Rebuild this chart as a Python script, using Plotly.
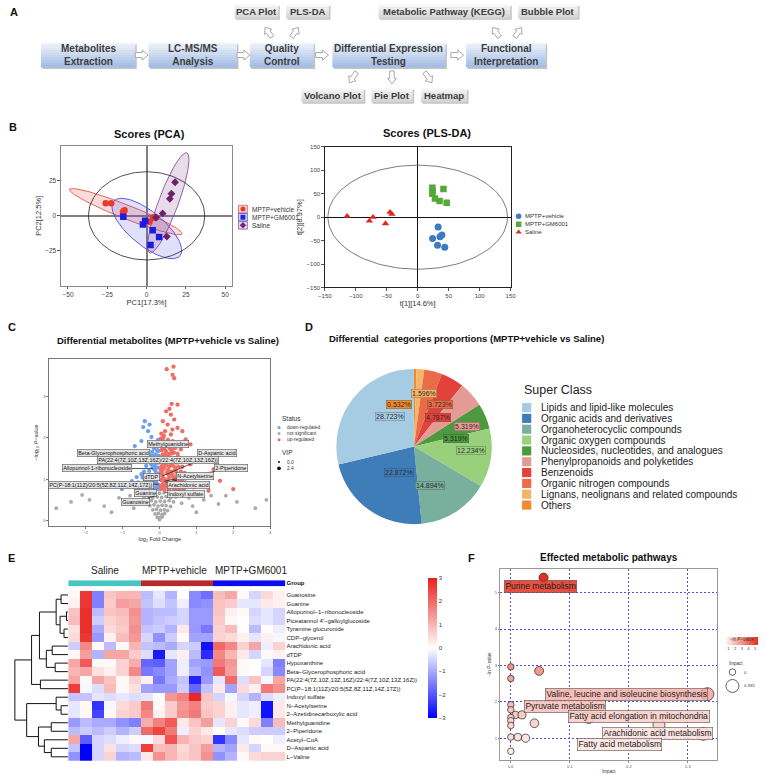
import math
import numpy as np
import plotly.graph_objects as go

W, H = 765, 775
def PX(x): return x / W
def PY(y): return 1 - y / H

SANS = "Liberation Sans, Arial, Helvetica, sans-serif"
NARROW = "Liberation Sans Narrow, Arial Narrow, Liberation Sans, sans-serif"

# ======================= DATA =======================
# Panel A workflow
flow_main = ["Metabolites<br>Extraction", "LC-MS/MS<br>Analysis", "Quality<br>Control",
             "Differential Expression<br>Testing", "Functional<br>Interpretation"]
flow_top = ["PCA Plot", "PLS-DA", "Metabolic Pathway (KEGG)", "Bubble Plot"]
flow_bottom = ["Volcano Plot", "Pie Plot", "Heatmap"]

# Panel B - PCA scores
pca_groups = ["MPTP+vehicle", "MPTP+GM6001", "Saline"]
pca_vehicle_x = [-26, -22.5, -14.8, -14, -15, 4, 4.5, 1.9, 6]
pca_vehicle_y = [9, 9, 3.3, 4, 2, -1.4, -1, -4.2, -1.2]
pca_gm_x = [-14.8, -2.3, -0.9, 3.9, 8, 2.5]
pca_gm_y = [-0.7, -6.1, -3.5, -10.3, -15.2, -20.9]
pca_saline_x = [18.1, 15.8, 14.8, 10.2, 6, 12.9]
pca_saline_y = [24, 15.8, 12.2, 1.7, -1.2, -14.8]
# group ellipses: centre, half major vector, half minor vector
pca_ellipses = [(-13.25, 3.0, 35.75, -15.9, 1.6, 4.6),
                (0.15, -9.05, 21.15, -19.45, 6.8, 9.4),
                (13.8, 9.25, 11.8, 35.75, 5.86, -2.48)]
pca_conf_r = (37, 31.5)

# Panel B - PLS-DA scores
pls_vehicle_x = [33, 24, 36, 39, 32, 43.7]
pls_vehicle_y = [-20.7, -45.7, -42, -38, -60, -64]
pls_gm_x = [23.7, 24.2, 23.7, 27.9, 35.3, 41.6, 46.8]
pls_gm_y = [62.9, 55.7, 50, 40, 34.3, 60, 30.7]
pls_saline_x = [-114, -78, -72, -52, -44.7, -41.6]
pls_saline_y = [2, -8, 0, -13.6, 10.7, 6.4]
pls_conf_r = (145, 111)

# Panel C - volcano
vol_up_x = [0.195, 0.38, 0.355, 0.4, 0.33, 0.27, 0.49, 0.18, 0.31, 0.4, 0.09, 0.22, 0.49, 0.35, 0.62,
            0.15, 0.31, 0.71, 0.84, 0.58, 1.11, 1.29, 0.84, 1.47, 1.2, 1.64, 0.93, 1.33, 2.0, 0.71,
            0.04, 0.10, 0.06, 0.15, 0.22, 0.12, 0.05, 0.28, 0.18, 0.09, 0.33, 0.24, 0.14, 0.04, 0.40,
            0.30, 0.20, 0.08, 0.46, 0.36, 0.26, 0.13, 0.03, 0.52, 0.42, 0.32, 0.20, 0.08, 0.58, 0.48,
            0.37, 0.26, 0.14, 0.04, 0.64, 0.54, 0.44, 0.32, 0.20, 0.09, 0.70, 0.60, 0.50, 0.38, 0.26,
            0.14, 0.04, 0.66, 0.55, 0.45, 0.30, 0.17, 0.08, 0.25, 0.11, 0.19, 0.27, 0.06, 0.35, 0.45,
            0.15, 0.23, 0.05, 0.12, 0.36, 0.42, 0.50, 0.58, 0.62, 0.68,
            0.02, 0.07, 0.11, 0.16, 0.21, 0.29, 0.34, 0.39, 0.47, 0.53, 0.03, 0.09, 0.17, 0.23, 0.31,
            0.43, 0.56, 0.61, 0.02, 0.13, 0.21, 0.28, 0.39, 0.49, 0.07, 0.18, 0.33, 0.01, 0.10, 0.24]
vol_up_y = [3.66, 3.72, 3.52, 3.44, 2.82, 2.7, 2.8, 2.64, 2.56, 2.44, 2.4, 2.32, 2.24, 2.2, 2.16,
            2.16, 2.08, 1.96, 1.84, 1.72, 1.64, 1.48, 1.36, 1.24, 1.04, 0.96, 0.8, 0.72, 0.76, 0.84,
            1.98, 1.92, 1.85, 1.88, 1.80, 1.76, 1.70, 1.74, 1.66, 1.60, 1.62, 1.55, 1.50, 1.52, 1.50,
            1.44, 1.40, 1.38, 1.40, 1.33, 1.30, 1.27, 1.25, 1.30, 1.22, 1.18, 1.16, 1.12, 1.18, 1.10,
            1.06, 1.03, 1.00, 0.98, 1.05, 0.98, 0.94, 0.90, 0.88, 0.86, 0.92, 0.86, 0.82, 0.78, 0.76,
            0.75, 0.76, 0.76, 0.74, 0.73, 0.82, 0.94, 1.06, 1.10, 1.45, 1.56, 1.62, 1.30, 1.45, 1.18,
            1.70, 1.95, 2.10, 2.05, 1.92, 1.75, 1.55, 1.42, 1.30, 1.15,
            0.83, 0.80, 0.91, 0.84, 0.97, 0.88, 1.12, 1.00, 1.05, 1.12, 1.17, 1.22, 1.34, 1.22, 1.36,
            1.28, 0.90, 0.98, 1.42, 1.58, 1.48, 1.52, 1.64, 1.62, 1.78, 1.82, 1.70, 1.88, 2.00, 1.86]
vol_down_x = [-0.04, -0.10, -0.06, -0.15, -0.03, -0.20, -0.10, -0.26, -0.05, -0.16, -0.30, -0.08, -0.22,
              -0.36, -0.04, -0.14, -0.28, -0.42, -0.08, -0.20, -0.34, -0.46, -0.04, -0.14, -0.26, -0.38,
              -0.50, -0.08, -0.20, -0.32, -0.44, -0.56, -0.04, -0.14, -0.26, -0.38, -0.12, -0.18, -0.24,
              -0.30, -0.10, -0.02, -0.4, -0.27, -0.44, -0.31, -0.22, -0.49, -0.67, -0.58, -0.84, -1.02,
              -0.67, -0.49, -0.62, -0.75, -0.02, -0.09, -0.17, -0.25, -0.33, -0.02, -0.11, -0.19, -0.28,
              -0.06, -0.13, -0.02]
vol_down_y = [1.95, 1.88, 1.80, 1.74, 1.68, 1.66, 1.60, 1.58, 1.52, 1.48, 1.45, 1.40, 1.36,
              1.32, 1.28, 1.24, 1.20, 1.18, 1.14, 1.10, 1.06, 1.04, 1.02, 0.98, 0.95, 0.92,
              0.90, 0.88, 0.84, 0.80, 0.78, 0.76, 0.76, 0.74, 0.73, 0.72, 1.32, 1.56, 1.02,
              0.88, 0.80, 1.10, 2.4, 2.32, 2.26, 2.16, 2.02, 1.92, 1.8, 0.92, 0.84, 0.76,
              0.8, 1.12, 1.05, 0.95, 0.86, 0.94, 0.90, 0.84, 0.98, 1.40, 1.20, 1.28, 1.10,
              1.70, 1.84, 1.56]
vol_ns_x = [-0.50, -0.38, -0.25, -0.12, 0.00, 0.12, 0.25, 0.38, 0.52, 0.62,
            -0.42, -0.30, -0.18, -0.06, 0.06, 0.18, 0.30, 0.44,
            -0.34, -0.22, -0.10, 0.02, 0.14, 0.26, 0.38,
            -0.26, -0.15, -0.04, 0.07, 0.18, 0.30,
            -0.18, -0.08, 0.03, 0.13, 0.22,
            -0.12, -0.03, 0.07, 0.14,
            -0.06, 0.02, 0.08, 0.0,
            -2.4, -1.9, -1.5, -1.1, -0.9, -0.7, -2.8, -1.3, 1.2, 1.6, 2.1, 2.6, 0.9, 1.4, 0.8, 2.9, -0.8, 1.0,
            -2.1, -0.6, 0.6, 1.8]
vol_ns_y = [0.66, 0.64, 0.67, 0.65, 0.66, 0.67, 0.65, 0.66, 0.64, 0.68,
            0.56, 0.58, 0.55, 0.57, 0.56, 0.58, 0.55, 0.57,
            0.46, 0.48, 0.45, 0.47, 0.46, 0.48, 0.45,
            0.36, 0.38, 0.35, 0.37, 0.36, 0.34,
            0.26, 0.27, 0.25, 0.26, 0.24,
            0.16, 0.17, 0.15, 0.17,
            0.08, 0.07, 0.09, 0.02,
            0.45, 0.5, 0.35, 0.55, 0.4, 0.3, 0.3, 0.2, 0.5, 0.4, 0.45, 0.3, 0.35, 0.6, 0.55, 0.5, 0.6, 0.2,
            0.62, 0.45, 0.42, 0.6]
vol_labels = ["Methylguanidine", "Beta-Glycerophosphoric acid", "D-Aspartic acid",
              "PA(22:4(7Z,10Z,13Z,16Z)/22:4(7Z,10Z,13Z,16Z))", "Allopurinol-1-ribonucleoside",
              "2-Piperidone", "dTDP", "N-Acetylserine", "PC(P-18:1(11Z)/20:5(5Z,8Z,11Z,14Z,17Z))",
              "Arachidonic acid", "Guanine", "Indoxyl sulfate", "Guanosine"]

# Panel D - pie
pie_classes = ["Lipids and lipid-like molecules", "Organic acids and derivatives",
               "Organoheterocyclic compounds", "Organic oxygen compounds",
               "Nucleosides, nucleotides, and analogues", "Phenylpropanoids and polyketides",
               "Benzenoids", "Organic nitrogen compounds", "Lignans, neolignans and related compounds",
               "Others"]
pie_values = [28.723, 22.872, 14.894, 12.234, 5.319, 5.319, 4.787, 3.723, 1.596, 0.532]
pie_colors = ["#A6CCE3", "#3F7DB8", "#78AF9D", "#98D07C", "#4C9A3D", "#E59B95", "#E2413C",
              "#EA6B47", "#F6B466", "#F08A2C"]

# Panel E - heatmap
hm_rows = ["Guanosine", "Guanine", "Allopurinol\u22121\u2212ribonucleoside", "Piceatannol 4'\u2212galloylglucoside",
           "Tyramine glucuronide", "CDP\u2212glycerol", "Arachidonic acid", "dTDP", "Hypoxanthine",
           "Beta\u2212Glycerophosphoric acid", "PA(22:4(7Z,10Z,13Z,16Z)/22:4(7Z,10Z,13Z,16Z))",
           "PC(P\u221218:1(11Z)/20:5(5Z,8Z,11Z,14Z,17Z))", "Indoxyl sulfate", "N\u2212Acetylserine",
           "2\u2212Azetidinecarboxylic acid", "Methylguanidine", "2\u2212Piperidone", "Acetyl\u2212CoA",
           "D\u2212Aspartic acid", "L\u2212Valine"]
hm_groups = ["Saline", "MPTP+vehicle", "MPTP+GM6001"]
hm_group_of_col = [0] * 6 + [1] * 6 + [2] * 6
hm_values = [
    [0.1, 2.7, -1.5, 0.8, 1.0, 1.0, -0.8, -0.3, -0.9, 0.0, -1.4, -1.7, 0.9, 1.2, 0.1, -0.5, 0.5, 0.2],
    [0.2, 2.7, -1.5, 0.7, 1.3, 1.2, -0.7, -0.4, -0.7, -0.2, -1.4, -1.3, 0.8, 0.7, -0.3, -0.3, 0.3, 0.2],
    [0.8, 2.8, -0.8, 0.8, 0.9, 1.5, -0.9, -0.8, -0.8, -0.5, -1.2, -1.2, 0.8, 0.2, 0.1, -0.5, -0.3, -0.5],
    [0.9, 2.8, -0.6, 0.6, 0.8, 1.4, -0.9, -0.7, -0.6, -0.5, -1.2, -1.2, 0.7, 0.1, 0.0, -0.4, -0.3, -0.5],
    [0.4, 2.8, -1.0, 0.5, 0.7, 1.5, -0.7, -0.6, -0.9, 0.3, -1.2, -1.6, 0.6, 0.9, 0.0, -0.8, 0.0, -0.2],
    [0.5, 2.7, -1.2, 0.2, 0.9, 1.4, -0.5, -1.3, -0.6, 0.1, -1.1, -1.1, 0.6, 0.5, 0.2, -0.3, 0.2, -0.1],
    [-0.6, 1.6, 0.1, -0.8, 0.1, 1.0, -0.7, -0.8, -1.0, -0.5, -0.6, -2.8, 2.0, 1.6, 0.6, 1.2, -0.2, 0.6],
    [0.1, 1.3, -0.9, 1.2, 1.2, 0.7, -0.4, -2.7, -0.3, 0.2, -0.8, -2.5, 1.6, 1.0, 0.3, -0.5, 0.1, 0.2],
    [1.2, 2.2, 0.1, 0.1, 0.6, 1.1, -1.8, -1.9, -1.1, -0.2, -1.1, -1.2, 1.8, 1.4, 0.1, 0.0, -0.3, -1.5],
    [1.0, 1.2, 0.4, 0.2, 0.6, 1.6, -1.6, -1.4, -1.1, -0.2, -0.9, -1.3, 2.2, 1.3, 0.1, 0.0, -0.5, -1.4],
    [1.2, 0.1, 1.2, 0.8, 0.1, 0.6, 0.2, -1.6, -1.0, -0.7, -2.6, -1.2, -0.3, 2.0, -0.4, 0.8, -0.1, 1.2],
    [2.6, -0.1, -0.4, 0.9, 0.1, 0.4, -1.1, -1.2, -1.2, -0.6, -1.8, -0.7, 0.3, -1.1, 0.5, 0.2, 1.8, 1.5],
    [-0.7, -0.7, -0.3, -0.4, -0.3, -0.4, -0.3, 0.0, 1.4, 1.7, 2.9, 0.8, -0.5, -0.1, -0.5, -0.9, -0.4, -0.2],
    [-0.3, 0.1, -2.4, -0.1, 0.5, 0.7, 1.8, 0.1, 0.7, 1.4, 1.7, 0.7, 0.6, 0.2, -0.3, -0.2, -2.8, 0.3],
    [-0.3, 0.1, -2.2, 0.1, 0.6, 0.7, 1.6, 0.2, 0.7, 1.5, 1.8, 0.8, 0.6, 0.2, -0.3, -0.2, -2.8, 0.3],
    [-1.2, -0.8, -1.0, -1.0, -1.3, -1.5, 1.1, 1.7, 2.2, 0.3, 0.8, 1.3, -0.3, 0.6, 0.1, 0.5, -1.5, 0.9],
    [-0.8, -0.6, -0.8, -0.6, -0.9, -0.6, 2.0, 2.5, 1.8, -0.2, 0.6, 0.3, 0.0, -0.3, -0.4, -0.6, -0.6, -0.6],
    [1.2, -1.9, -0.5, -0.4, -0.2, 0.1, -0.1, 0.5, 2.3, 1.0, 0.7, 0.6, -2.4, -1.4, -0.3, 0.1, 0.0, -0.2],
    [-0.7, -3.0, -0.5, 0.4, -0.5, -0.4, 2.6, 0.9, 1.0, 0.5, 0.8, 1.3, -0.9, -1.1, 0.3, -0.5, 0.1, 0.1],
    [-1.3, -3.0, -0.5, 0.6, -0.9, -0.8, 0.3, 1.5, 1.0, 0.6, 0.8, 1.5, -1.3, -0.9, 0.1, 0.5, 0.6, 0.6],
]
# dendrogram merges (child a, child b, height); leaves 0..19, new nodes from 20
hm_merges = [(0, 1, 7), (2, 3, 1.5), (4, 5, 4), (21, 22, 8), (20, 23, 12), (6, 7, 16), (8, 9, 13),
             (25, 26, 22), (24, 27, 29), (10, 11, 28), (28, 29, 37), (13, 14, 7), (12, 31, 12),
             (15, 16, 17), (18, 19, 17), (17, 34, 24), (33, 35, 30), (32, 36, 42), (30, 37, 54)]

# Panel F - pathways bubble
path_impact = [0.0555, 0, 0.048, 0, 0.333, 0, 0, 0.008, 0.019, 0, 0, 0, 0.04, 0.132, 0.251, 0.326,
               0, 0.012, 0.025, 0]
path_lnp = [5.41, 2.96, 2.85, 2.64, 2.21, 1.92, 1.78, 1.64, 1.64, 1.57, 1.48, 1.35, 1.41, 1.55, 1.37,
            1.12, 1.03, 1.03, 1.0, 0.64]
path_labels = ["Purine metabolism", "Valine, leucine and isoleucine biosynthesis", "Pyruvate metabolism",
               "Fatty acid elongation in mitochondria", "Arachidonic acid metabolism", "Fatty acid metabolism"]
path_label_point = [0, 4, 5, 13, 15, 18]

# ======================= HELPERS =======================
def hex2rgb(h):
    h = h.lstrip('#')
    return tuple(int(h[i:i + 2], 16) for i in (0, 2, 4))

def mix(c1, c2, t):
    a, b = hex2rgb(c1), hex2rgb(c2)
    return '#%02X%02X%02X' % tuple(int(round(a[i] + (b[i] - a[i]) * t)) for i in range(3))

def rgba(c, a):
    r, g, b = hex2rgb(c)
    return f"rgba({r},{g},{b},{a})"

annotations = []
shapes = []

def ann(text, x, y, size, bold=False, color="#222222", xanchor="center", yanchor="middle",
        family=SANS, **kw):
    annotations.append(dict(text=f"<b>{text}</b>" if bold else text, x=PX(x), y=PY(y),
                            xref="paper", yref="paper", showarrow=False,
                            font=dict(size=size, color=color, family=family),
                            xanchor=xanchor, yanchor=yanchor, **kw))

def rect(x0, y0, x1, y1, fill, line=None, lw=0):
    shapes.append(dict(type="rect", xref="paper", yref="paper", x0=PX(x0), x1=PX(x1),
                       y0=PY(y1), y1=PY(y0), fillcolor=fill,
                       line=dict(color=line or fill, width=lw), layer="above"))

def grad_box(x0, y0, x1, y1, ctop, cbot, n=10):
    rect(x0 + 1.5, y0 + 1.5, x1 + 1.5, y1 + 1.5, "#C4C4C4")
    for i in range(n):
        ya = y0 + (y1 - y0) * i / n
        yb = y0 + (y1 - y0) * (i + 1) / n + 0.3
        rect(x0, ya, x1, min(yb, y1), mix(ctop, cbot, i / (n - 1)))

def block_arrow(cx, cy, ang, L=14, w=5, hw=10, hl=6):
    loc = [(-L / 2, -w / 2), (L / 2 - hl, -w / 2), (L / 2 - hl, -hw / 2), (L / 2, 0),
           (L / 2 - hl, hw / 2), (L / 2 - hl, w / 2), (-L / 2, w / 2)]
    a = math.radians(ang)
    pts = [(cx + u * math.cos(a) - v * math.sin(a), cy + u * math.sin(a) + v * math.cos(a)) for u, v in loc]
    path = "M " + " L ".join(f"{PX(x):.5f},{PY(y):.5f}" for x, y in pts) + " Z"
    shapes.append(dict(type="path", path=path, xref="paper", yref="paper", fillcolor="white",
                       line=dict(color="#A8A8A8", width=1), layer="above"))

def ell(cx, cy, ax_, ay_, bx, by, n=140):
    t = np.linspace(0, 2 * np.pi, n)
    return cx + ax_ * np.cos(t) + bx * np.sin(t), cy + ay_ * np.cos(t) + by * np.sin(t)

fig = go.Figure()

# ======================= PANEL A =======================
ann("A", 7, 9, 11, bold=True, color="#111")
main_pos = [(34.5, 130.5), (144, 234), (247, 312), (331, 446), (467, 548)]
for (x0, x1), t in zip(main_pos, flow_main):
    grad_box(x0, 40, x1, 65, "#EEF3FA", "#A3BDE6")
    ann(t, (x0 + x1) / 2, 52.5, 10, bold=True, color="#3C3C3C", family=NARROW)
top_pos = [(231.5, 276), (284, 327.6), (378, 512), (520, 581)]
for (x0, x1), t in zip(top_pos, flow_top):
    grad_box(x0, 1.5, x1, 15.5, "#F7F7F7", "#D4D4D4")
    ann(t, (x0 + x1) / 2, 8.7, 9.5, bold=True, color="#3C3C3C", family=NARROW)
bot_pos = [(299.5, 363), (370.4, 412.8), (421, 468)]
for (x0, x1), t in zip(bot_pos, flow_bottom):
    grad_box(x0, 86, x1, 100, "#F7F7F7", "#D4D4D4")
    ann(t, (x0 + x1) / 2, 93.2, 9.5, bold=True, color="#3C3C3C", family=NARROW)
for x in [137, 240.5, 320.5, 458]:
    block_arrow(x, 52.5, 0, L=13, w=5, hw=10, hl=6)
for x, a in [(266, -125), (293, -55), (497.5, -125), (520, -55)]:
    block_arrow(x, 29.5, a, L=12, w=4.5, hw=9, hl=5.5)
for x, a in [(352, 125), (391.6, 90), (428.6, 55)]:
    block_arrow(x, 75, a, L=13, w=4.5, hw=9, hl=5.5)

# ======================= PANEL B: PCA =======================
ann("B", 6, 125, 11, bold=True, color="#111")
ann("Scores (PCA)", 145, 132, 11, bold=True, color="#111")
pca_cols = ["#E8392F", "#1C1CE0", "#6E1F6E"]
pca_fill = [rgba("#E8392F", 0.18), rgba("#4646E6", 0.17), rgba("#8E4C96", 0.20)]
pca_edge = ["#E0574E", "#4B4BE0", "#8F5097"]
for p, f, e in zip(pca_ellipses, pca_fill, pca_edge):
    ex, ey = ell(*p)
    fig.add_trace(go.Scatter(x=ex, y=ey, mode="lines", fill="toself", fillcolor=f,
                             line=dict(color=e, width=0.9), xaxis="x", yaxis="y",
                             showlegend=False, hoverinfo="skip"))
ex, ey = ell(0, 0, pca_conf_r[0], 0, 0, pca_conf_r[1])
fig.add_trace(go.Scatter(x=ex, y=ey, mode="lines", line=dict(color="#222", width=0.8),
                         xaxis="x", yaxis="y", showlegend=False, hoverinfo="skip"))
for xs, ys, c, sym, sz in [(pca_vehicle_x, pca_vehicle_y, pca_cols[0], "circle", 6.5),
                           (pca_gm_x, pca_gm_y, pca_cols[1], "square", 6.5),
                           (pca_saline_x, pca_saline_y, pca_cols[2], "diamond", 6)]:
    fig.add_trace(go.Scatter(x=xs, y=ys, mode="markers", marker=dict(color=c, symbol=sym, size=sz),
                             xaxis="x", yaxis="y", showlegend=False, hoverinfo="skip"))

# ======================= PANEL B: PLS-DA =======================
ann("Scores (PLS-DA)", 427, 131, 11, bold=True, color="#111")
ex, ey = ell(0, 0, pls_conf_r[0], 0, 0, pls_conf_r[1])
fig.add_trace(go.Scatter(x=ex, y=ey, mode="lines", line=dict(color="#444", width=0.7),
                         xaxis="x2", yaxis="y2", showlegend=False, hoverinfo="skip"))
pls_cols = ["#3B7BC4", "#55A83A", "#E0281E"]
for xs, ys, c, sym, sz in [(pls_vehicle_x, pls_vehicle_y, pls_cols[0], "circle", 7),
                           (pls_gm_x, pls_gm_y, pls_cols[1], "square", 6.5),
                           (pls_saline_x, pls_saline_y, pls_cols[2], "triangle-up", 6.5)]:
    fig.add_trace(go.Scatter(x=xs, y=ys, mode="markers", marker=dict(color=c, symbol=sym, size=sz),
                             xaxis="x2", yaxis="y2", showlegend=False, hoverinfo="skip"))

# ======================= PANEL C: volcano =======================
ann("C", 5, 327, 11, bold=True, color="#111")
ann("Differential metabolites (MPTP+vehicle vs Saline)", 164, 340, 9.5, bold=True, color="#111")
fig.add_trace(go.Scatter(x=vol_ns_x, y=vol_ns_y, mode="markers", marker=dict(color="#ABABAB", size=3.8),
                         xaxis="x3", yaxis="y3", showlegend=False, hoverinfo="skip"))
fig.add_trace(go.Scatter(x=vol_down_x, y=vol_down_y, mode="markers", marker=dict(color="#6E9FEE", size=4.3),
                         xaxis="x3", yaxis="y3", showlegend=False, hoverinfo="skip"))
fig.add_trace(go.Scatter(x=vol_up_x, y=vol_up_y, mode="markers", marker=dict(color="#EE6D65", size=4.3),
                         xaxis="x3", yaxis="y3", showlegend=False, hoverinfo="skip"))

def vx(p): return (p - 155) / 37.5
def vy(p): return (521.7 - p) / 41.7
vol_label_px = [(163.3, 444.3), (108.7, 453.3), (212.7, 453.3), (153.3, 461), (92.7, 469), (226.7, 469),
                (147.3, 477.3), (190.7, 477.3), (96, 485.7), (184, 486), (140.7, 494), (181.7, 495),
                (130.7, 502.7)]
vol_target_px = [None, None, (158.3, 476.7), None, (148.3, 469.3), (160, 482), None, (161.7, 483.3),
                 (154, 485), (162, 488), (150, 497), (160, 493), (150, 497)]
for lab, (lx, ly), tg in zip(vol_labels, vol_label_px, vol_target_px):
    common = dict(text=lab, xref="x3", yref="y3", bgcolor="#E4E4E4", bordercolor="#555",
                  borderwidth=0.6, borderpad=0.6, font=dict(size=5.5, family=SANS, color="#111"))
    if tg is None:
        annotations.append(dict(x=vx(lx), y=vy(ly), showarrow=False, **common))
    else:
        annotations.append(dict(x=vx(tg[0]), y=vy(tg[1]), showarrow=True, arrowhead=0, arrowwidth=0.7,
                                arrowcolor="#111", ax=lx - tg[0], ay=ly - tg[1], **common))
# volcano legend
ann("Status", 278, 418.5, 6.5, color="#333", xanchor="left")
for i, (t, c) in enumerate([("down-regulated", "#6E9FEE"), ("not significant", "#ABABAB"),
                            ("up-regulated", "#EE6D65")]):
    ann(t, 282.5, 427.7 + 6.2 * i, 4.8, color="#333", xanchor="left")
    fig.add_trace(go.Scatter(x=[276.7], y=[427.7 + 6.2 * i], mode="markers", marker=dict(color=c, size=3),
                             xaxis="x8", yaxis="y8", showlegend=False, hoverinfo="skip"))
ann("VIP", 278, 453.3, 6.5, color="#333", xanchor="left")
for i, (t, s) in enumerate([("0.0", 2), ("2.4", 3.8)]):
    ann(t, 282.5, 462.7 + 6.3 * i, 4.8, color="#333", xanchor="left")
    fig.add_trace(go.Scatter(x=[276.7], y=[462.7 + 6.3 * i], mode="markers", marker=dict(color="#111", size=s),
                             xaxis="x8", yaxis="y8", showlegend=False, hoverinfo="skip"))

# ======================= PANEL D: pie =======================
ann("D", 307, 327, 11, bold=True, color="#111")
ann("Differential  categories proportions (MPTP+vehicle vs Saline)", 467.5, 338.5, 9.5, bold=True, color="#111")
# drawn clockwise from 12 o'clock starting with the last class, so the first class ends at 12 o'clock
fig.add_trace(go.Pie(labels=pie_classes[::-1], values=pie_values[::-1], sort=False, direction="clockwise",
                     rotation=0, textinfo="none", hoverinfo="skip", showlegend=False,
                     marker=dict(colors=pie_colors[::-1], line=dict(width=0)),
                     domain=dict(x=[PX(335), PX(493)], y=[PY(526), PY(368)])))
pie_label_px = [(390, 416.7), (398.3, 473.3), (430, 486.7), (471.7, 450.7), (456.7, 439), (468.3, 427.3),
                (438.3, 417.7), (440, 405), (424.3, 393.3), (398.3, 404.3)]
for v, c, (lx, ly) in zip(pie_values, pie_colors, pie_label_px):
    ann(f"{v:.3f}%", lx, ly, 7, color="#2A2A2A", bgcolor=c, bordercolor=mix(c, "#333333", 0.45),
        borderwidth=0.6, borderpad=0.5)
ann("Super Class", 524, 390, 12.5, color="#222", xanchor="left")
for i, (t, c) in enumerate(zip(pie_classes, pie_colors)):
    yy = 407.7 + 10.92 * i
    rect(524, yy - 4.6, 533.3, yy + 4.6, c)
    ann(t, 541.5, yy, 10, color="#222", xanchor="left")

# ======================= PANEL E: heatmap =======================
ann("E", 5, 559, 11, bold=True, color="#111")
grp_x = [100, 170, 248]
for g, gx in zip(hm_groups, grp_x):
    ann(g, gx, 571.5, 10, color="#222")
hm_cs = [[0, "#0000FF"], [0.5, "#FFFFFF"], [1, "#E9201C"]]
fig.add_trace(go.Heatmap(z=hm_values, x=list(range(18)), y=list(range(20)), coloraxis="coloraxis",
                         xaxis="x4", yaxis="y4", hoverinfo="skip"))
grp_cs = [[0, "#48C6C3"], [0.3333, "#48C6C3"], [0.3334, "#B8292D"], [0.6666, "#B8292D"],
          [0.6667, "#0B0BEF"], [1, "#0B0BEF"]]
fig.add_trace(go.Heatmap(z=[hm_group_of_col], x=list(range(18)), y=[0], colorscale=grp_cs, zmin=0, zmax=2,
                         showscale=False, xaxis="x5", yaxis="y5", hoverinfo="skip"))
# dendrogram
pos = {i: float(i) for i in range(20)}
hgt = {i: 0.0 for i in range(20)}
dx, dy = [], []
for k, (a, b, h) in enumerate(hm_merges):
    node = 20 + k
    dx += [hgt[a], h, h, hgt[b], None]
    dy += [pos[a], pos[a], pos[b], pos[b], None]
    pos[node] = (pos[a] + pos[b]) / 2
    hgt[node] = h
fig.add_trace(go.Scatter(x=dx, y=dy, mode="lines", line=dict(color="#111", width=1),
                         xaxis="x6", yaxis="y6", showlegend=False, hoverinfo="skip"))

# ======================= PANEL F: bubbles =======================
ann("F", 473, 559, 11, bold=True, color="#111")
ann("Effected metabolic pathways", 612.7, 558.5, 10, bold=True, color="#111")
bub_lo, bub_hi = "#FFF4F1", "#E3301E"
bub_cmin, bub_cmax = 0.6, 5.41
bub_size = [6.5 + 11.2 * math.sqrt(v) for v in path_impact]
fig.add_trace(go.Scatter(x=path_impact, y=path_lnp, mode="markers",
                         marker=dict(color=path_lnp, coloraxis="coloraxis2", size=bub_size, sizemode="diameter",
                                     line=dict(color="#222", width=0.7), opacity=1),
                         xaxis="x7", yaxis="y7", showlegend=False, hoverinfo="skip"))
def bx_(p): return (p - 512.7) / 600
def by_(p): return 1 + (741 - p) / 36.67
path_label_px = [(543.3, 587.7), (630, 697.3), (567.7, 709), (642.7, 719), (661.7, 736.7), (623.3, 747.7)]
for lab, pi, (lx, ly) in zip(path_labels, path_label_point, path_label_px):
    t = (path_lnp[pi] - bub_cmin) / (bub_cmax - bub_cmin)
    c = mix(bub_lo, bub_hi, t)
    annotations.append(dict(text=lab, x=bx_(lx), y=by_(ly), xref="x7", yref="y7", showarrow=False,
                            bgcolor=rgba(c, 0.85), bordercolor="#555", borderwidth=0.6, borderpad=0.8,
                            font=dict(size=8.5, family=SANS, color="#222")))
# size legend
ann("Impact", 741.7, 665.7, 4.5, color="#333")
for (yy, sz, lab) in [(674.3, 6.5, "0"), (688.3, 6.5 + 11.2 * math.sqrt(max(path_impact)), "0.335")]:
    fig.add_trace(go.Scatter(x=[738], y=[yy], mode="markers",
                             marker=dict(color="white", size=sz, line=dict(color="#222", width=0.7)),
                             xaxis="x8", yaxis="y8", showlegend=False, hoverinfo="skip"))
    ann(lab, 747.5, yy, 4.2, color="#333", xanchor="left")

# ======================= LAYOUT =======================
def box_axis(domain, rng, tickvals, title, tfont=6.5, tsize=7.5, lc="#777", lw=1, zc="#777", zw=1.5, **kw):
    return dict(domain=domain, range=rng, tickvals=tickvals, ticks="outside", ticklen=2.5, tickcolor="#555",
                tickfont=dict(size=tfont, color="#444", family=SANS), showgrid=False, zeroline=True,
                zerolinecolor=zc, zerolinewidth=zw, showline=True, mirror=True, linecolor=lc, linewidth=lw,
                title=dict(text=title, font=dict(size=tsize, color="#333", family=SANS), standoff=2),
                fixedrange=True, **kw)

layout = dict(
    width=W, height=H, margin=dict(l=0, r=0, t=0, b=0), autosize=False,
    paper_bgcolor="white", plot_bgcolor="rgba(0,0,0,0)", showlegend=False,
    font=dict(family=SANS),
    xaxis=box_axis([PX(55), PX(229)], [-54.4, 54.4], [-50, -25, 0, 25, 50], "PC1[17.3%]", lc="#8A8A8A",
                   lw=1.2, zc="#808080", zw=1.6),
    yaxis=box_axis([PY(285), PY(144)], [-50, 50], [-25, 0, 25], "PC2[12.5%]", lc="#8A8A8A", lw=1.2,
                   zc="#808080", zw=1.6),
    xaxis2=box_axis([PX(323.3), PX(512.3)], [-150, 150], [-150, -100, -50, 0, 50, 100, 150], "t[1][14.6%]",
                    tfont=6, lc="#222", lw=1, zc="#111", zw=1.1),
    yaxis2=box_axis([PY(286.7), PY(145)], [-150, 150], [-150, -100, -50, 0, 50, 100, 150], "t[2][8.97%]",
                    tfont=6, lc="#222", lw=1, zc="#111", zw=1.1),
    xaxis3=dict(domain=[PX(43), PX(268)], range=[-2.99, 3.01], tickvals=[-3, -2, -1, 0, 1, 2, 3],
                ticks="outside", ticklen=2, tickcolor="#777", tickfont=dict(size=4, color="#555"),
                showgrid=False, zeroline=False, showline=True, mirror=True, linecolor="#777", linewidth=0.8,
                title=dict(text="log<sub>2</sub> Fold Change", font=dict(size=5.5, color="#333"), standoff=3),
                fixedrange=True),
    yaxis3=dict(domain=[PY(527), PY(359)], range=[-0.13, 3.9], tickvals=[0, 1, 2, 3],
                ticks="outside", ticklen=2, tickcolor="#777", tickfont=dict(size=4, color="#555"),
                showgrid=False, zeroline=False, showline=True, mirror=True, linecolor="#777", linewidth=0.8,
                title=dict(text="\u2212log<sub>10</sub> <i>P</i>\u2212value", font=dict(size=5.5, color="#333"),
                           standoff=4), fixedrange=True),
    xaxis4=dict(domain=[PX(62.3), PX(283.3)], range=[-0.5, 17.5], visible=False, fixedrange=True),
    yaxis4=dict(domain=[PY(764), PY(592.3)], range=[19.5, -0.5], tickvals=list(range(20)), ticktext=hm_rows,
                side="right", ticks="", showgrid=False, zeroline=False, showline=False,
                tickfont=dict(size=6, color="#222", family=SANS), fixedrange=True, anchor="x4"),
    xaxis5=dict(domain=[PX(62.3), PX(283.3)], range=[-0.5, 17.5], visible=False, fixedrange=True),
    yaxis5=dict(domain=[PY(588), PY(581.7)], range=[-0.5, 0.5], tickvals=[0], ticktext=["<b>Group</b>"],
                side="right", ticks="", showgrid=False, zeroline=False, showline=False,
                tickfont=dict(size=6, color="#111", family=SANS), fixedrange=True, anchor="x5"),
    xaxis6=dict(domain=[PX(6), PX(62)], range=[56, 0], visible=False, fixedrange=True),
    yaxis6=dict(domain=[PY(764), PY(592.3)], range=[19.5, -0.5], visible=False, fixedrange=True),
    xaxis7=dict(domain=[PX(501.7), PX(722.7)], range=[-0.018, 0.35], tickvals=[0, 0.1, 0.2, 0.3],
                ticktext=["0.0", "0.1", "0.2", "0.3"], ticks="outside", ticklen=1.5, tickcolor="#888",
                tickfont=dict(size=4, color="#555"), showgrid=True, gridcolor="#5050E0", griddash="2px,2px",
                gridwidth=0.6, zeroline=False, showline=True, mirror=True, linecolor="#999", linewidth=0.8,
                title=dict(text="Impact", font=dict(size=4.5, color="#333"), standoff=2), fixedrange=True),
    yaxis7=dict(domain=[PY(763.3), PY(570)], range=[0.39, 5.66], tickvals=[1, 2, 3, 4, 5],
                ticks="outside", ticklen=1.5, tickcolor="#888", tickfont=dict(size=4, color="#555"),
                showgrid=True, gridcolor="#5050E0", griddash="2px,2px", gridwidth=0.6, zeroline=False,
                showline=True, mirror=True, linecolor="#999", linewidth=0.8,
                title=dict(text="\u2212ln <i>P</i>\u2212value", font=dict(size=4.5, color="#333"), standoff=3),
                fixedrange=True),
    xaxis8=dict(domain=[0, 1], range=[0, W], visible=False, fixedrange=True),
    yaxis8=dict(domain=[0, 1], range=[H, 0], visible=False, fixedrange=True),
    coloraxis=dict(colorscale=hm_cs, cmin=-3, cmax=3,
                   colorbar=dict(x=PX(428), xanchor="left", y=PY(650), yanchor="middle", len=140,
                                 lenmode="pixels", thickness=9, thicknessmode="pixels",
                                 tickvals=[-3, -2, -1, 0, 1, 2, 3], ticks="", outlinewidth=0,
                                 tickfont=dict(size=6, color="#333"), xpad=0, ypad=0)),
    coloraxis2=dict(colorscale=[[0, bub_lo], [1, bub_hi]], cmin=bub_cmin, cmax=bub_cmax,
                    colorbar=dict(orientation="h", x=PX(747.5), xanchor="center", y=PY(634), yanchor="top",
                                  len=32, lenmode="pixels", thickness=8, thicknessmode="pixels",
                                  tickvals=[1, 2, 3, 4, 5], ticks="", outlinewidth=0,
                                  tickfont=dict(size=4, color="#333"), xpad=0, ypad=0,
                                  title=dict(text="\u2212ln <i>P</i>\u2212value", side="top",
                                             font=dict(size=4.5, color="#333")))),
    annotations=annotations, shapes=shapes,
)
for i in [1, 2, 3, 7]:
    sx = "" if i == 1 else str(i)
    layout["xaxis" + sx]["anchor"] = "y" + sx
    layout["yaxis" + sx]["anchor"] = "x" + sx
layout["xaxis4"]["anchor"] = "y4"
layout["xaxis5"]["anchor"] = "y5"
layout["xaxis6"]["anchor"] = "y6"
layout["yaxis6"]["anchor"] = "x6"
layout["xaxis8"]["anchor"] = "y8"
layout["yaxis8"]["anchor"] = "x8"
fig.update_layout(**layout)

# PCA / PLS-DA legends
leg_items = [("MPTP+vehicle", "circle"), ("MPTP+GM6001", "square"), ("Saline", "diamond")]
for i, (t, sym) in enumerate(leg_items):
    yy = [207.7, 215.9, 224.1][i]
    rect(235.5, yy - 3.8, 244.5, yy + 3.8, pca_fill[i], line=pca_edge[i], lw=0.8)
    fig.add_trace(go.Scatter(x=[240], y=[yy], mode="markers", marker=dict(color=pca_cols[i], symbol=sym, size=5),
                             xaxis="x8", yaxis="y8", showlegend=False, hoverinfo="skip"))
    ann(t, 247, yy, 6.5, color="#333", xanchor="left")
for i, (t, sym) in enumerate([("MPTP+vehicle", "circle"), ("MPTP+GM6001", "square"), ("Saline", "triangle-up")]):
    yy = [215, 223, 231][i]
    fig.add_trace(go.Scatter(x=[520.5], y=[yy], mode="markers", marker=dict(color=pls_cols[i], symbol=sym, size=5.5),
                             xaxis="x8", yaxis="y8", showlegend=False, hoverinfo="skip"))
    ann(t, 525, yy, 6, color="#333", xanchor="left")
fig.update_layout(annotations=annotations, shapes=shapes)

fig.write_html("out.html", include_plotlyjs=True, config={"displayModeBar": False},
               post_script="document.body.style.margin='0';")
